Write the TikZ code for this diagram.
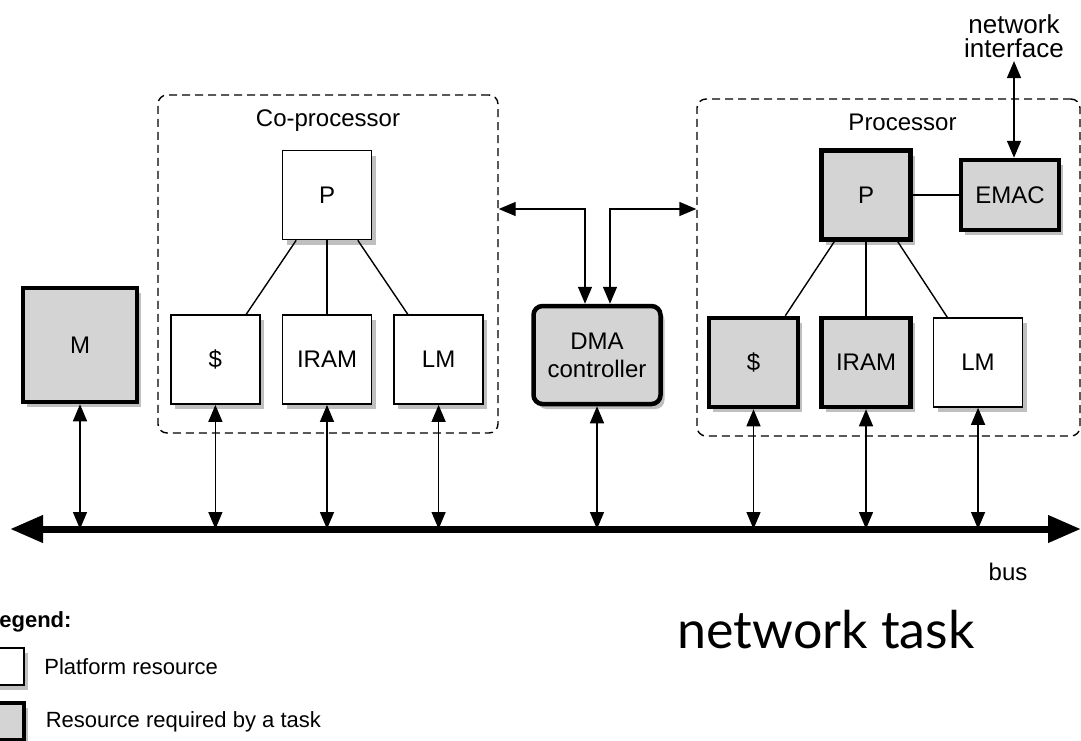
\documentclass[tikz,border=0pt]{standalone}
\usepackage{fontspec}
\setmainfont{Liberation Sans}
\newfontfamily\titlefont{Lato}
\usepackage{tikz}
\usetikzlibrary{arrows.meta, positioning, calc, shadows}

\definecolor{taskgray}{RGB}{212,212,212}

\begin{document}
\begin{tikzpicture}[
  x=1pt, y=-1pt,
  font=\fontsize{24}{28}\selectfont,
  box/.style={rectangle, draw=black, line width=1.6pt, fill=white, minimum width=89pt, minimum height=89pt, inner sep=0pt,
    drop shadow={shadow xshift=4pt, shadow yshift=-5pt, fill=black, opacity=0.25}},
  taskbox/.style={box, line width=4.5pt, fill=taskgray},
  container/.style={rectangle, rounded corners=9pt, draw=black, line width=1.4pt, dash pattern=on 8pt off 5pt},
  link/.style={{Triangle[length=17pt, width=14pt]}-{Triangle[length=17pt, width=14pt]}, line width=1.4pt},
  wire/.style={line width=1.4pt},
  busline/.style={{Triangle[length=33pt, width=26pt]}-{Triangle[length=33pt, width=26pt]}, line width=7pt},
]
\useasboundingbox (0,0) rectangle (1081,740);

% Containers
\node[container, minimum width=340pt, minimum height=338pt] (coproc) at (328,264) {};
\node[container, minimum width=383pt, minimum height=337pt] (proc) at (888.5,267.5) {};
\node[below=12pt of coproc.north] {Co-processor};
\node[below=12pt of proc.north, xshift=14pt] {Processor};

% Memory
\node[taskbox, minimum width=114pt, minimum height=114pt] (M) at (80,345) {M};

% Co-processor
\node[box] (cP) at (327,195) {P};
\node[box, below=74pt of cP] (cIRAM) {IRAM};
\node[box, left=21pt of cIRAM] (cCache) {\$};
\node[box, right=21pt of cIRAM] (cLM) {LM};

% DMA controller
\node[taskbox, rounded corners=9pt, minimum width=127pt, minimum height=98pt, align=center] (dma) at (597,355) {DMA\\controller};

% Processor
\node[taskbox] (pP) at (866,195) {P};
\node[taskbox, minimum width=98pt, minimum height=70pt] (emac) at (1010,195) {EMAC};
\node[taskbox, below=74pt of pP] (pIRAM) {IRAM};
\node[taskbox, left=19pt of pIRAM] (pCache) {\$};
\node[box, right=20pt of pIRAM] (pLM) {LM};

% Network interface
\node[align=center, font=\fontsize{26}{24}\selectfont] (netif) at (1014,36) {network\\interface};

% Bus
\coordinate (busL) at (10,529);
\coordinate (busR) at (1081,529);
\draw[busline] (busL) -- (busR);
\node (bus) at (1008,572) {bus};

% Tree lines
\draw[wire] ($(cP.south west)!0.16!(cP.south east)$) -- ($(cCache.north west)!0.84!(cCache.north east)$);
\draw[wire] (cP) -- (cIRAM);
\draw[wire] ($(cP.south west)!0.84!(cP.south east)$) -- ($(cLM.north west)!0.16!(cLM.north east)$);
\draw[wire] ($(pP.south west)!0.16!(pP.south east)$) -- ($(pCache.north west)!0.84!(pCache.north east)$);
\draw[wire] (pP) -- (pIRAM);
\draw[wire] ($(pP.south west)!0.84!(pP.south east)$) -- ($(pLM.north west)!0.16!(pLM.north east)$);
\draw[wire] (pP) -- (emac);

% DMA arrows
\coordinate (dmaL) at (585,209);
\coordinate (dmaR) at (610,209);
\draw[link] (coproc.east |- dmaL) -| (dma.north -| dmaL);
\draw[link] (dma.north -| dmaR) |- (proc.west |- dmaR);
\draw[link] (emac.north -| netif) -- (netif.south);

% Bus arrows
\foreach \n in {M, cCache, cIRAM, cLM, dma, pCache, pIRAM, pLM}
  \draw[link] (\n.south) -- (\n.south |- busL);

% Legend
\node[anchor=east, font=\fontsize{22}{24}\selectfont\bfseries] (legend) at (75,622) {Legend:};
\node[box, minimum width=37pt, minimum height=37pt] (legW) at (5.5,666.5) {};
\node[taskbox, minimum width=37pt, minimum height=37pt] (legG) at (5.5,721.5) {};
\node[right=16pt of legW, font=\fontsize{22}{24}\selectfont] {Platform resource};
\node[right=16pt of legG, font=\fontsize{22}{24}\selectfont] {Resource required by a task};

% Title
\node[font=\titlefont\fontsize{52}{58}\selectfont] (title) at (826,630) {network task};

\end{tikzpicture}
\end{document}
